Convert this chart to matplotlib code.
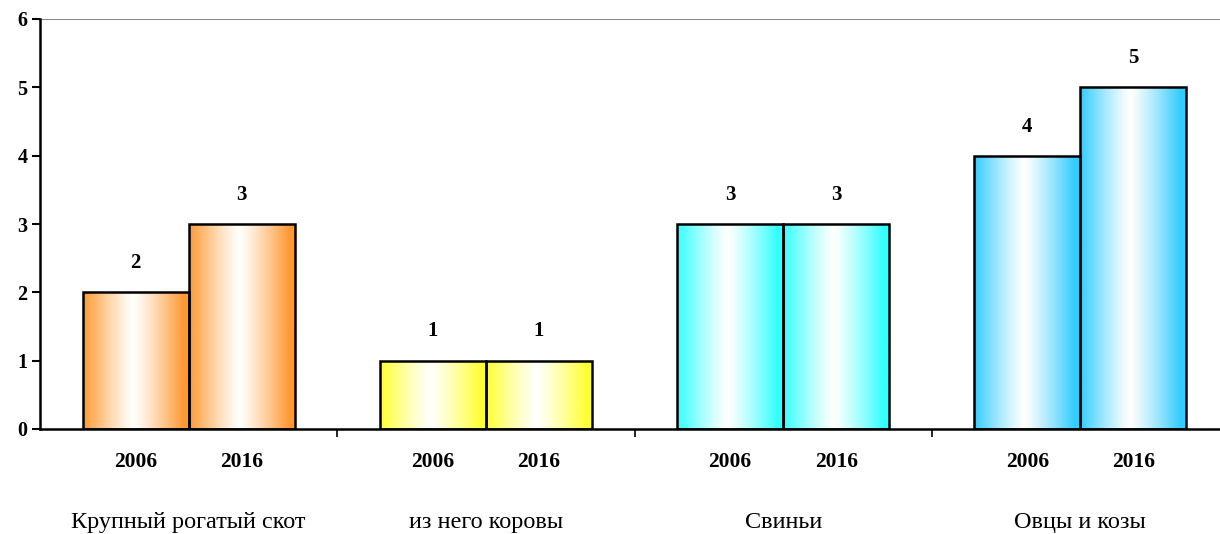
import numpy as np
import matplotlib.pyplot as plt
from matplotlib.colors import to_rgb

categories = ["Крупный рогатый скот", "из него коровы", "Свиньи", "Овцы и козы"]
years = ["2006", "2016"]
values_2006 = [2, 1, 3, 4]
values_2016 = [3, 1, 3, 5]
edge_colors = ["#ff9933", "#ffff33", "#33ffff", "#33ccff"]

plt.rcParams['font.family'] = ['Liberation Serif', 'DejaVu Serif']

fig = plt.figure(figsize=(12.2, 5.34), dpi=100)
ax = fig.add_axes([40/1220, 105/534, 1189/1220, 410/534])

w = 0.357
x = np.arange(len(categories))

def gradient_bar(xc, h, color):
    # horizontal gradient: colour at edges, near white in the middle
    t = np.linspace(0, 1, 200)
    k = np.clip(np.abs(t - 0.47) / 0.47, 0, 1) ** 1.2
    c = np.array(to_rgb(color))
    white = np.array([1.0, 1.0, 0.99])
    img = (white[None, :] * (1 - k[:, None]) + c[None, :] * k[:, None])[None, :, :]
    bar = ax.bar(xc, h, width=w, facecolor='none', edgecolor='black', lw=1.8, zorder=3)[0]
    im = ax.imshow(img, extent=[xc - w/2, xc + w/2, 0, h], aspect='auto', zorder=2,
                   interpolation='bilinear')
    im.set_clip_path(bar)
    ax.annotate(str(h), (xc, h), xytext=(0, 21), textcoords='offset points',
                ha='center', va='center', fontsize=15, fontweight='bold')

for i in range(len(categories)):
    gradient_bar(x[i] - w/2, values_2006[i], edge_colors[i])
    gradient_bar(x[i] + w/2, values_2016[i], edge_colors[i])
    for xc, yr in [(x[i] - w/2, years[0]), (x[i] + w/2, years[1])]:
        ax.annotate(yr, (xc, 0), xytext=(0, -24), textcoords='offset points',
                    ha='center', va='center', fontsize=15.5, fontweight='bold')
    ax.annotate(categories[i], (x[i], 0), xytext=(0, -67), textcoords='offset points',
                ha='center', va='center', fontsize=17.5)

ax.set_xlim(-0.5, 3.5)
ax.set_ylim(0, 6)
ax.set_yticks(range(7))
ax.set_yticklabels([str(v) for v in range(7)], fontsize=14.5, fontweight='bold')
ax.set_xticks([0.5, 1.5, 2.5])
ax.set_xticklabels([])
ax.tick_params(axis='x', direction='out', length=6, width=1.2)
ax.tick_params(axis='y', direction='out', length=6, width=1.5, pad=3)
ax.axhline(6, color='#888888', lw=1.5, zorder=1)
for s in ['top', 'right']:
    ax.spines[s].set_visible(False)
ax.spines['left'].set_linewidth(1.8)
ax.spines['bottom'].set_linewidth(1.8)

fig.savefig('out.png', dpi=100)
